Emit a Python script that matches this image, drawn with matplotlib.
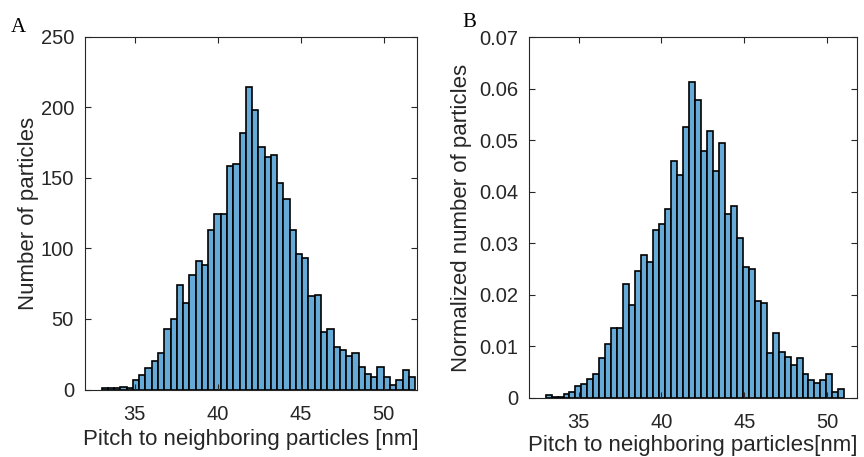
import numpy as np
import matplotlib
matplotlib.use('Agg')
import matplotlib.pyplot as plt

# Panel A: raw counts per bin (50 bins)
counts_a = [1, 1, 1, 2, 1, 7, 10, 15, 20, 26,
            43, 50, 74, 61, 81, 91, 88, 113, 124, 124,
            158, 160, 182, 214, 198, 172, 165, 166, 146, 135,
            113, 96, 93, 66, 67, 41, 43, 30, 28, 24,
            26, 16, 11, 9, 16, 9, 3, 7, 14, 9]
edges_a = np.linspace(33.0, 51.9, 51)

# Panel B: normalized counts per bin (50 bins)
counts_b = [0.0005, 0.0002, 0.0002, 0.0007, 0.0011, 0.0023, 0.0026, 0.0037, 0.0046, 0.0078,
            0.0104, 0.0136, 0.0136, 0.0220, 0.0180, 0.0247, 0.0278, 0.0264, 0.0326, 0.0338,
            0.0366, 0.0459, 0.0433, 0.0526, 0.0614, 0.0579, 0.0480, 0.0518, 0.0441, 0.0494,
            0.0356, 0.0372, 0.0311, 0.0253, 0.0249, 0.0188, 0.0183, 0.0087, 0.0125, 0.0089,
            0.0079, 0.0063, 0.0078, 0.0046, 0.0034, 0.0028, 0.0034, 0.0046, 0.0012, 0.0017]
edges_b = np.linspace(33.0, 51.05, 51)

xticks = [35, 40, 45, 50]
yticks_a = [0, 50, 100, 150, 200, 250]
yticks_b = [0, 0.01, 0.02, 0.03, 0.04, 0.05, 0.06, 0.07]
ytick_labels_b = ['0', '0.01', '0.02', '0.03', '0.04', '0.05', '0.06', '0.07']

bar_color = '#66AAD7'
dark = '#262626'
plt.rcParams['font.family'] = ['Liberation Sans', 'DejaVu Sans']

fig = plt.figure(figsize=(8.64, 4.57), dpi=100)
ax1 = fig.add_axes([0.0984, 0.1477, 0.3839, 0.7724])
ax2 = fig.add_axes([0.6123, 0.1298, 0.3793, 0.7886])


def draw_hist(ax, counts, edges):
    widths = np.diff(edges)
    ax.bar(edges[:-1], counts, width=widths, align='edge',
           color=bar_color, edgecolor='black', linewidth=1.2)
    ax.tick_params(direction='in', length=4, width=0.8, colors=dark,
                   labelsize=14.5, top=True, right=True, pad=8)
    ax.tick_params(axis='x', pad=11)
    for s in ax.spines.values():
        s.set_color(dark)
        s.set_linewidth(0.8)
    ax.set_xticks(xticks)


draw_hist(ax1, counts_a, edges_a)
ax1.set_xlim(32, 52)
ax1.set_ylim(0, 250)
ax1.set_yticks(yticks_a)
ax1.set_xlabel('Pitch to neighboring particles [nm]', fontsize=16, color=dark, labelpad=4)
ax1.set_ylabel('Number of particles', fontsize=16, color=dark, labelpad=1)

draw_hist(ax2, counts_b, edges_b)
ax2.set_xlim(32, 51.8)
ax2.set_ylim(0, 0.07)
ax2.set_yticks(yticks_b)
ax2.set_yticklabels(ytick_labels_b)
ax2.set_xlabel('Pitch to neighboring particles[nm]', fontsize=16, color=dark, labelpad=2)
ax2.set_ylabel('Normalized number of particles', fontsize=16, color=dark, labelpad=5)

fig.text(0.012, 0.93, 'A', fontsize=15, family='Liberation Serif', color='black')
fig.text(0.535, 0.94, 'B', fontsize=15, family='Liberation Serif', color='black')

fig.savefig('out.png', dpi=100)
